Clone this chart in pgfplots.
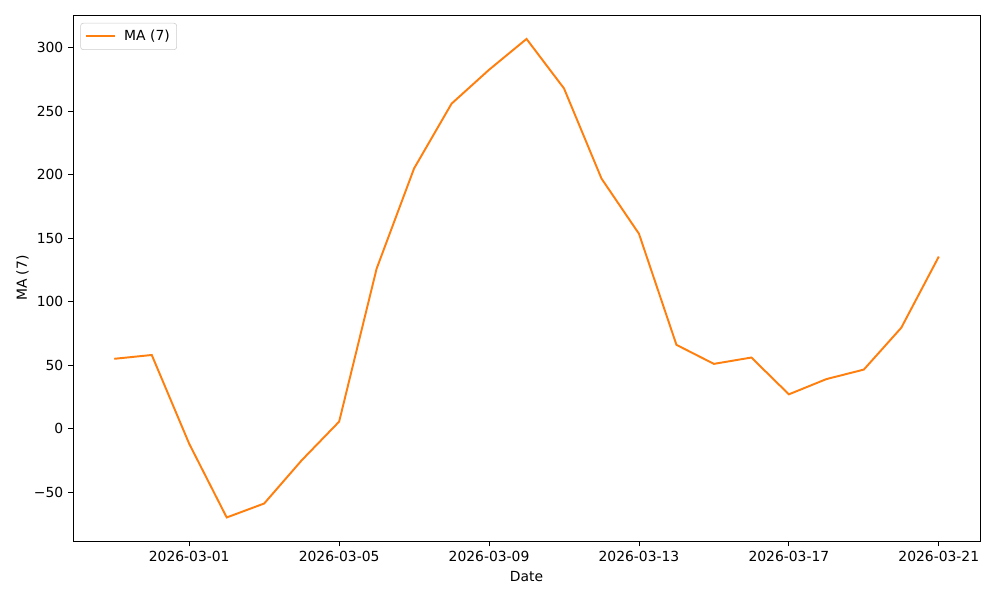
\documentclass[border=0pt]{standalone}
\usepackage{pgfplots}
\pgfplotsset{compat=1.18}
\usepackage{fontspec}
\setmainfont{DejaVu Sans}
\definecolor{mplorange}{HTML}{FF7F0E}
\begin{document}
\begin{tikzpicture}
\begin{axis}[
    scale only axis,
    width=653pt,
    height=379pt,
    xmin=-3.1, xmax=21.1,
    ymin=-88.85, ymax=325.85,
    xtick={0,4,8,12,16,20},
    xticklabels={2026-03-01,2026-03-05,2026-03-09,2026-03-13,2026-03-17,2026-03-21},
    ytick={-50,0,50,100,150,200,250,300},
    yticklabels={−50,0,50,100,150,200,250,300},
    tick align=outside,
    tick pos=left,
    major tick length=3.5pt,
    tick style={black, line width=0.6pt},
    axis line style={line width=0.6pt},
    xlabel={Date},
    ylabel={MA (7)},
    ylabel style={yshift=-3pt},
    label style={font=\fontsize{10}{12}\selectfont},
    ticklabel style={font=\fontsize{10}{12}\selectfont},
    /pgf/number format/assume math mode=true,
    legend style={font=\fontsize{10}{12}\selectfont, draw=black!20, rounded corners=2pt,
        inner xsep=3pt, inner ysep=3pt, at={(0.008,0.985)}, anchor=north west,
        /tikz/every odd column/.append style={column sep=4pt}},
    legend cell align=left,
    legend image code/.code={\draw[#1] (0pt,0pt) -- (21pt,0pt);},
]
\addplot[mplorange, line width=1.4pt] coordinates {
    (-2, 55) (-1, 58) (0, -12) (1, -70) (2, -59) (3, -25) (4, 5.5)
    (5, 126) (6, 205) (7, 256) (8, 282.7) (9, 307) (10, 268) (11, 197)
    (12, 153.5) (13, 66) (14, 51) (15, 56) (16, 27) (17, 39) (18, 46.5)
    (19, 79.5) (20, 135.5)
};
\addlegendentry{MA (7)}
\end{axis}
\pgfresetboundingbox
\path[use as bounding box] ([xshift=-52.6pt,yshift=-41.8pt]current axis.south west) rectangle ([xshift=14.4pt,yshift=10.8pt]current axis.north east);
\end{tikzpicture}
\end{document}
